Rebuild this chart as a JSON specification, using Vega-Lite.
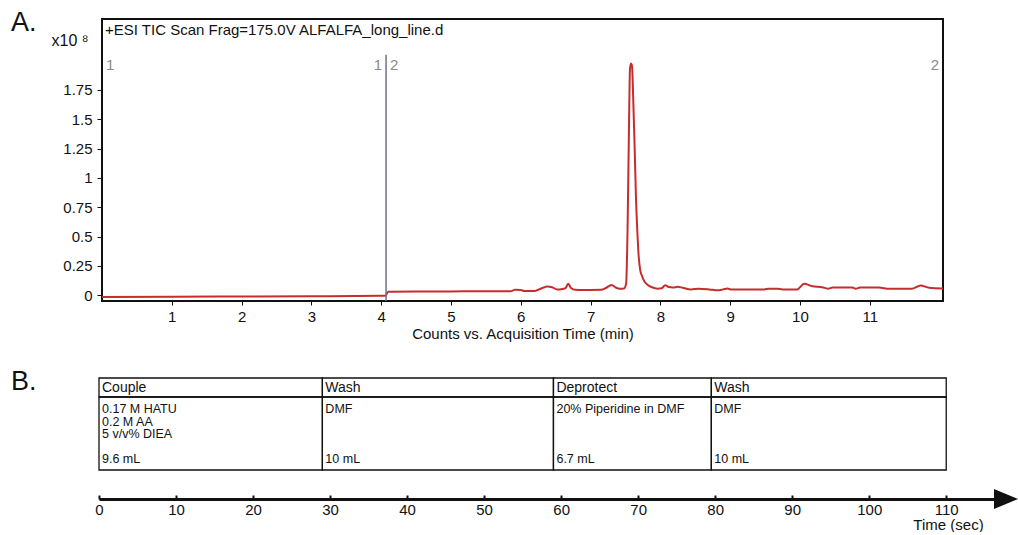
{
  "$schema": "https://vega.github.io/schema/vega-lite/v6.json",
  "padding": {"left": 10, "top": 8, "right": 0, "bottom": 0},
  "spacing": 25,
  "config": {
    "font": "Liberation Sans",
    "axis": {"grid": false, "labelColor": "#111", "titleColor": "#111", "titleFontWeight": "normal"}
  },
  "datasets": {
    "ticTrace": [
      {"t": 0.0, "c": -0.015}, {"t": 1.0, "c": -0.012}, {"t": 2.0, "c": -0.010}, {"t": 3.0, "c": -0.008},
      {"t": 4.0, "c": -0.005}, {"t": 4.06, "c": -0.004}, {"t": 4.1, "c": 0.030}, {"t": 4.5, "c": 0.032},
      {"t": 5.0, "c": 0.033}, {"t": 5.5, "c": 0.034}, {"t": 5.85, "c": 0.034}, {"t": 5.92, "c": 0.046},
      {"t": 6.0, "c": 0.045}, {"t": 6.05, "c": 0.036}, {"t": 6.2, "c": 0.036}, {"t": 6.3, "c": 0.060},
      {"t": 6.38, "c": 0.075}, {"t": 6.45, "c": 0.068}, {"t": 6.52, "c": 0.050}, {"t": 6.58, "c": 0.052},
      {"t": 6.64, "c": 0.060}, {"t": 6.68, "c": 0.098}, {"t": 6.72, "c": 0.062}, {"t": 6.78, "c": 0.046},
      {"t": 7.0, "c": 0.045}, {"t": 7.15, "c": 0.046}, {"t": 7.22, "c": 0.062}, {"t": 7.3, "c": 0.088},
      {"t": 7.36, "c": 0.066}, {"t": 7.42, "c": 0.055}, {"t": 7.48, "c": 0.058}, {"t": 7.51, "c": 0.10},
      {"t": 7.53, "c": 0.55}, {"t": 7.55, "c": 1.40}, {"t": 7.565, "c": 1.93}, {"t": 7.58, "c": 1.975},
      {"t": 7.595, "c": 1.95}, {"t": 7.61, "c": 1.70}, {"t": 7.63, "c": 1.30}, {"t": 7.65, "c": 0.85},
      {"t": 7.67, "c": 0.55}, {"t": 7.69, "c": 0.33}, {"t": 7.71, "c": 0.22}, {"t": 7.74, "c": 0.16},
      {"t": 7.77, "c": 0.12}, {"t": 7.82, "c": 0.088}, {"t": 7.88, "c": 0.068}, {"t": 7.96, "c": 0.056},
      {"t": 8.02, "c": 0.060}, {"t": 8.07, "c": 0.085}, {"t": 8.12, "c": 0.070}, {"t": 8.18, "c": 0.066},
      {"t": 8.25, "c": 0.072}, {"t": 8.32, "c": 0.064}, {"t": 8.44, "c": 0.050}, {"t": 8.55, "c": 0.056},
      {"t": 8.7, "c": 0.050}, {"t": 8.82, "c": 0.042}, {"t": 8.9, "c": 0.050}, {"t": 8.96, "c": 0.058},
      {"t": 9.02, "c": 0.048}, {"t": 9.3, "c": 0.048}, {"t": 9.49, "c": 0.050}, {"t": 9.55, "c": 0.056},
      {"t": 9.68, "c": 0.056}, {"t": 9.75, "c": 0.050}, {"t": 9.96, "c": 0.050}, {"t": 10.06, "c": 0.098},
      {"t": 10.18, "c": 0.076}, {"t": 10.32, "c": 0.068}, {"t": 10.4, "c": 0.056}, {"t": 10.47, "c": 0.066},
      {"t": 10.75, "c": 0.066}, {"t": 10.8, "c": 0.056}, {"t": 10.86, "c": 0.066}, {"t": 11.13, "c": 0.066},
      {"t": 11.28, "c": 0.055}, {"t": 11.6, "c": 0.055}, {"t": 11.73, "c": 0.084}, {"t": 11.85, "c": 0.064},
      {"t": 12.05, "c": 0.058}
    ],
    "scanSegments": [
      {"seg": "1", "start": 0, "end": 4.07},
      {"seg": "2", "start": 4.07, "end": 12.05}
    ],
    "scanInfo": [{"label": "+ESI TIC Scan Frag=175.0V ALFALFA_long_line.d"}],
    "cycleSteps": [
      {"step": "Couple", "start": 0, "end": 29},
      {"step": "Wash", "start": 29, "end": 59},
      {"step": "Deprotect", "start": 59, "end": 79.5},
      {"step": "Wash", "start": 79.5, "end": 110}
    ],
    "stepDetails": [
      {"start": 0, "line": 1, "entry": "0.17 M HATU"},
      {"start": 0, "line": 2, "entry": "0.2 M AA"},
      {"start": 0, "line": 3, "entry": "5 v/v% DIEA"},
      {"start": 0, "line": 5, "entry": "9.6 mL"},
      {"start": 29, "line": 1, "entry": "DMF"},
      {"start": 29, "line": 5, "entry": "10 mL"},
      {"start": 59, "line": 1, "entry": "20% Piperidine in DMF"},
      {"start": 59, "line": 5, "entry": "6.7 mL"},
      {"start": 79.5, "line": 1, "entry": "DMF"},
      {"start": 79.5, "line": 5, "entry": "10 mL"}
    ]
  },
  "vconcat": [
    {
      "width": 841,
      "height": 282,
      "view": {"stroke": "#111", "strokeWidth": 2},
      "title": {"text": "A.", "anchor": "start", "frame": "group", "orient": "top", "offset": -18,
                "fontSize": 27, "fontWeight": "normal", "color": "#111", "baseline": "top", "dx": -91},
      "resolve": {"axis": {"x": "independent", "y": "independent"}},
      "layer": [
        {
          "data": {"name": "ticTrace"},
          "mark": {"type": "line", "color": "#c62d2d", "strokeWidth": 2, "interpolate": "monotone"},
          "encoding": {
            "x": {"field": "t", "type": "quantitative",
                  "scale": {"domain": [0, 12.05], "nice": false, "zero": false},
                  "axis": {"orient": "bottom", "values": [1, 2, 3, 4, 5, 6, 7, 8, 9, 10, 11], "domain": false, "tickSize": 4,
                           "tickColor": "#111", "labelFontSize": 15, "labelPadding": 4, "labelFlush": false,
                           "title": "Counts vs. Acquisition Time (min)", "titleFontSize": 15, "titlePadding": 2}},
            "y": {"field": "c", "type": "quantitative",
                  "scale": {"domain": [-0.049, 2.355], "nice": false, "zero": false},
                  "axis": {"orient": "left", "values": [0, 0.25, 0.5, 0.75, 1, 1.25, 1.5, 1.75], "format": ".2~f", "domain": false,
                           "tickSize": 5, "tickColor": "#111", "labelFontSize": 15, "labelPadding": 5, "labelFlush": false,
                           "title": "x10 ⁸", "titleAngle": 0, "titleAlign": "right", "titleBaseline": "alphabetic",
                           "titleX": -14, "titleY": 26, "titleFontSize": 16}}
          }
        },
        {
          "data": {"name": "scanSegments"},
          "transform": [{"filter": "datum.start > 0"}],
          "mark": {"type": "rule", "color": "#6f6f8f", "strokeWidth": 1.5},
          "encoding": {
            "x": {"field": "start", "type": "quantitative", "axis": null},
            "y": {"datum": 2.05, "type": "quantitative", "axis": null},
            "y2": {"datum": -0.049}
          }
        },
        {
          "data": {"name": "scanSegments"},
          "mark": {"type": "text", "align": "left", "baseline": "middle", "dx": 4, "fontSize": 15, "color": "#8a8a8a"},
          "encoding": {
            "x": {"field": "start", "type": "quantitative", "axis": null},
            "y": {"datum": 1.96, "type": "quantitative", "axis": null},
            "text": {"field": "seg", "type": "nominal"}
          }
        },
        {
          "data": {"name": "scanSegments"},
          "mark": {"type": "text", "align": "right", "baseline": "middle", "dx": -4, "fontSize": 15, "color": "#8a8a8a"},
          "encoding": {
            "x": {"field": "end", "type": "quantitative", "axis": null},
            "y": {"datum": 1.96, "type": "quantitative", "axis": null},
            "text": {"field": "seg", "type": "nominal"}
          }
        },
        {
          "data": {"name": "scanInfo"},
          "mark": {"type": "text", "align": "left", "baseline": "middle", "dx": 3, "fontSize": 15, "color": "#111"},
          "encoding": {
            "x": {"datum": 0, "type": "quantitative", "axis": null},
            "y": {"datum": 2.257, "type": "quantitative", "axis": null},
            "text": {"field": "label", "type": "nominal"}
          }
        }
      ]
    },
    {
      "width": 892,
      "height": 92,
      "view": {"stroke": null},
      "title": {"text": "B.", "anchor": "start", "frame": "group", "orient": "top", "offset": -18.4,
                "fontSize": 27, "fontWeight": "normal", "color": "#111", "baseline": "top", "dx": -91},
      "resolve": {"axis": {"x": "independent", "y": "independent"}},
      "layer": [
        {
          "data": {"name": "stepDetails"},
          "mark": {"type": "text", "align": "left", "baseline": "middle", "dx": 3, "fontSize": 12.5, "color": "#111"},
          "encoding": {
            "x": {"field": "start", "type": "quantitative",
                  "scale": {"domain": [0, 116.2], "range": [-3, 892], "nice": false, "zero": false},
                  "axis": {"orient": "bottom", "offset": 29, "values": [0, 10, 20, 30, 40, 50, 60, 70, 80, 90, 100, 110],
                           "domainColor": "#111", "domainWidth": 3, "tickColor": "#111", "tickWidth": 2, "tickSize": -4,
                           "labelFontSize": 15, "labelPadding": 7, "labelFlush": false,
                           "title": "Time (sec)", "titleFontSize": 15, "titleAlign": "center", "titleBaseline": "alphabetic",
                           "titleX": 846, "titleY": 30}},
            "y": {"field": "line", "type": "quantitative",
                  "scale": {"domain": [-1.48, 5.88], "reverse": true, "nice": false, "zero": false},
                  "axis": null},
            "text": {"field": "entry", "type": "nominal"}
          }
        },
        {
          "data": {"name": "cycleSteps"},
          "mark": {"type": "rect", "fill": "white", "fillOpacity": 0, "stroke": "#111", "strokeWidth": 1.3},
          "encoding": {
            "x": {"field": "start", "type": "quantitative", "axis": null},
            "x2": {"field": "end"},
            "y": {"datum": -1.48, "type": "quantitative", "axis": null},
            "y2": {"datum": 0.04}
          }
        },
        {
          "data": {"name": "cycleSteps"},
          "mark": {"type": "rect", "fill": "white", "fillOpacity": 0, "stroke": "#111", "strokeWidth": 1.3},
          "encoding": {
            "x": {"field": "start", "type": "quantitative", "axis": null},
            "x2": {"field": "end"},
            "y": {"datum": 0.04, "type": "quantitative", "axis": null},
            "y2": {"datum": 5.88}
          }
        },
        {
          "data": {"name": "cycleSteps"},
          "mark": {"type": "text", "align": "left", "baseline": "middle", "dx": 3, "fontSize": 14, "color": "#111"},
          "encoding": {
            "x": {"field": "start", "type": "quantitative", "axis": null},
            "y": {"datum": -0.72, "type": "quantitative", "axis": null},
            "text": {"field": "step", "type": "nominal"}
          }
        },
        {
          "data": {"values": [{"marker": "timeline end"}]},
          "mark": {"type": "point", "shape": "M1,0L-1,-0.83L-1,0.83Z", "size": 576, "filled": true,
                   "color": "#111", "opacity": 1, "strokeWidth": 0},
          "encoding": {
            "x": {"datum": 117.76, "type": "quantitative", "axis": null},
            "y": {"datum": 8.2, "type": "quantitative", "axis": null}
          }
        }
      ]
    }
  ]
}
